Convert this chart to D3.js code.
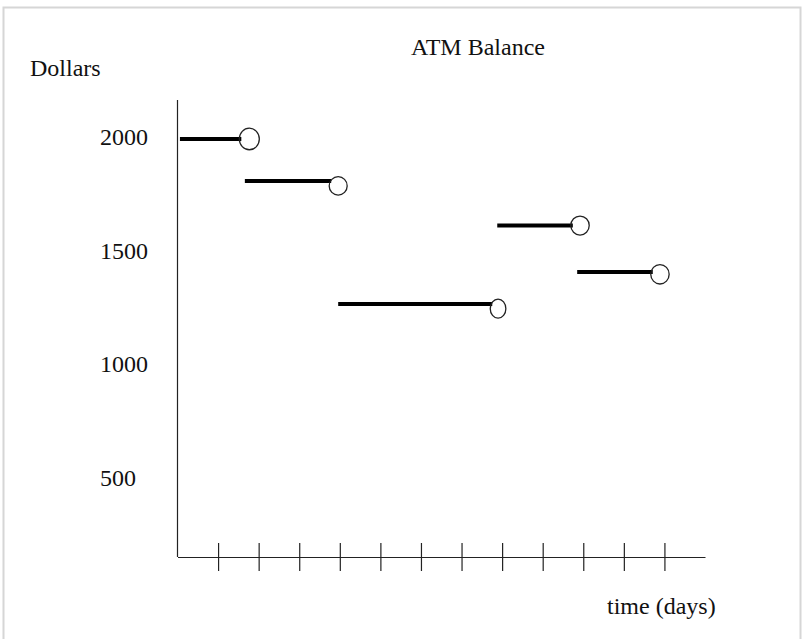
<!DOCTYPE html>
<html>
<head>
<meta charset="utf-8">
<script src="https://cdn.jsdelivr.net/npm/d3@7"></script>
<style>
  html, body { margin: 0; padding: 0; background: #fff; }
  svg { display: block; }
</style>
</head>
<body>
<div id="chart"></div>
<script>
// step segments: start day, end day (open circle), balance on the segment
const segStart = [0.06, 1.66, 3.96, 7.88, 9.85];
const segEnd = [1.77, 3.96, 7.9, 9.92, 11.89];
const balance = [1990, 1805, 1265, 1610, 1406];
// the open circles sit a little off the line in places
const endBalance = [1990, 1784, 1245, 1610, 1396];

const yTicks = [2000, 1500, 1000, 500];
const xTicks = [1, 2, 3, 4, 5, 6, 7, 8, 9, 10, 11, 12];

// circle sizes as drawn (px)
const markerRx = [10, 9, 7.8, 9.2, 9.2];
const markerRy = [10.8, 9.2, 9.5, 9.5, 9.7];

const W = 804, H = 639;
const FONT = "'Liberation Serif', 'Times New Roman', serif";

const svg = d3.select('#chart').append('svg')
    .attr('width', W).attr('height', H);

// light frame round the picture
svg.append('rect')
    .attr('x', 3.5).attr('y', 7.5).attr('width', 797).attr('height', 640)
    .attr('fill', 'none').attr('stroke', '#d6d6d6').attr('stroke-width', 2);

const x = d3.scaleLinear().domain([0, 13]).range([177.5, 705]);
const y = d3.scaleLinear().domain([155, 2161]).range([557, 100]);

// axes
svg.append('line')
    .attr('x1', x(0)).attr('x2', x(0)).attr('y1', y(2161)).attr('y2', y(155))
    .attr('stroke', '#222').attr('stroke-width', 1.2);

const xAxis = svg.append('g')
    .attr('transform', `translate(0,${y(155)})`)
    .call(d3.axisBottom(x).tickValues(xTicks).tickSizeOuter(0).tickFormat(''));
xAxis.select('.domain').attr('stroke', '#222').attr('stroke-width', 1.2);
xAxis.selectAll('.tick line')
    .attr('y1', -14).attr('y2', 14)
    .attr('stroke', '#222').attr('stroke-width', 1.2);

// y labels, left aligned
svg.selectAll('.ylab')
    .data(yTicks)
    .join('text')
    .attr('class', 'ylab')
    .attr('x', 100).attr('y', d => y(d) + 8)
    .text(d => d)
    .attr('font-family', FONT).attr('font-size', 24).attr('fill', '#111');

// step lines
const idx = d3.range(balance.length);
svg.selectAll('.seg')
    .data(idx)
    .join('line')
    .attr('class', 'seg')
    .attr('x1', i => x(segStart[i]))
    .attr('x2', i => x(segEnd[i]) - markerRx[i] + 2)
    .attr('y1', i => y(balance[i]))
    .attr('y2', i => y(balance[i]))
    .attr('stroke', '#000').attr('stroke-width', 4);

svg.selectAll('.endpt')
    .data(idx)
    .join('ellipse')
    .attr('class', 'endpt')
    .attr('cx', i => x(segEnd[i]))
    .attr('cy', i => y(endBalance[i]))
    .attr('rx', i => markerRx[i])
    .attr('ry', i => markerRy[i])
    .attr('fill', 'none').attr('stroke', '#222').attr('stroke-width', 1.3);

// titles
svg.append('text')
    .attr('x', 478).attr('y', 55).attr('text-anchor', 'middle')
    .text('ATM Balance')
    .attr('font-family', FONT).attr('font-size', 24).attr('fill', '#111');

svg.append('text')
    .attr('x', 30).attr('y', 76)
    .text('Dollars')
    .attr('font-family', FONT).attr('font-size', 24).attr('fill', '#111');

svg.append('text')
    .attr('x', 607).attr('y', 614)
    .text('time (days)')
    .attr('font-family', FONT).attr('font-size', 24).attr('fill', '#111');
</script>
</body>
</html>
